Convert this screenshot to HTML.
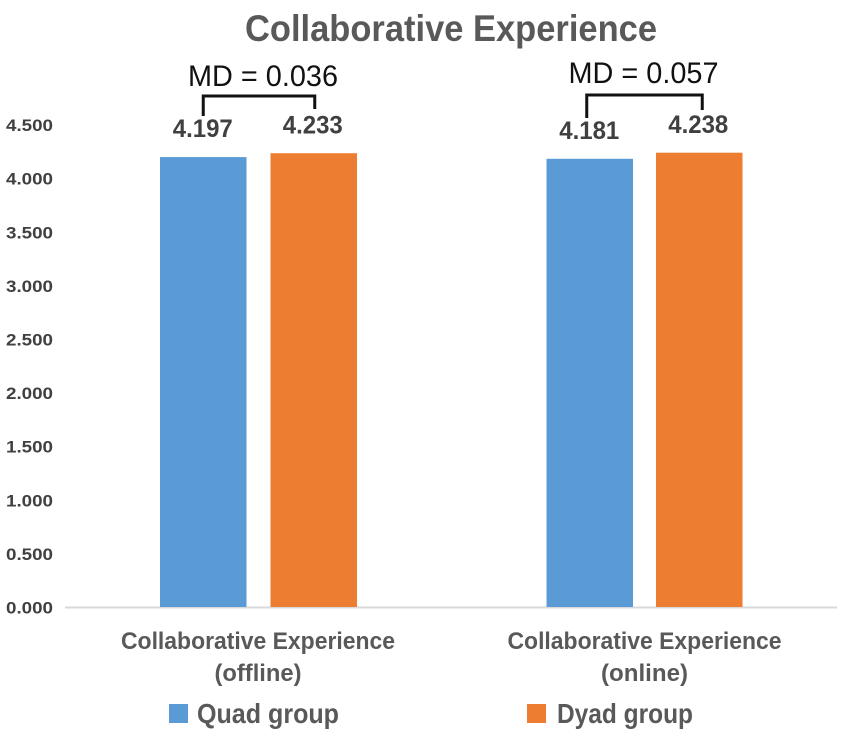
<!DOCTYPE html>
<html lang="en">
<head>
<meta charset="utf-8">
<title>Collaborative Experience</title>
<style>
html,body{margin:0;padding:0;background:#fff;}
svg{display:block;}
text{font-family:"Liberation Sans",sans-serif;}
</style>
</head>
<body>
<svg id="chart" xmlns="http://www.w3.org/2000/svg" width="851" height="739" viewBox="0 0 851 739">
  <rect x="0" y="0" width="851" height="739" fill="#fff"/>
  <text x="451" y="41" text-anchor="middle" font-size="37" font-weight="700" fill="#595959" textLength="412" lengthAdjust="spacingAndGlyphs">Collaborative Experience</text>
  <rect x="169" y="704" width="19" height="19" fill="#5b9bd5"/>
  <text x="197" y="723" font-size="28" font-weight="700" fill="#595959" textLength="142" lengthAdjust="spacingAndGlyphs">Quad group</text>
  <rect x="527" y="704" width="19" height="19" fill="#ed7d31"/>
  <text x="557" y="723" font-size="28" font-weight="700" fill="#595959" textLength="136" lengthAdjust="spacingAndGlyphs">Dyad group</text>
</svg>
<script>
const tickLabels = ["0.000","0.500","1.000","1.500","2.000","2.500","3.000","3.500","4.000","4.500"];
const categoryFirstLines = ["Collaborative Experience","Collaborative Experience"];
const categorySecondLines = ["(offline)","(online)"];
const quadValues = [4.197,4.181];
const dyadValues = [4.233,4.238];
const meanDifferences = ["0.036","0.057"];

const NS = "http://www.w3.org/2000/svg";
const svg = document.getElementById("chart");
const baseY = 607;
const unitPx = 107.2;
const yScale = function (v) { return baseY - v * unitPx; };
const groupCentre = function (i) { return 258 + i * 386.5; };
const barWidth = 86.5;

function make(tag, attrs, content) {
  const el = document.createElementNS(NS, tag);
  Object.keys(attrs).forEach(function (k) { el.setAttribute(k, attrs[k]); });
  if (content !== undefined) { el.textContent = content; }
  svg.appendChild(el);
  return el;
}

const axisLine = make("line", {x1: 65, x2: 837, y1: baseY + 0.5, y2: baseY + 0.5, stroke: "#d9d9d9", "stroke-width": 2});



tickLabels.forEach(function (label) {
  const tick = make("text", {x: 6, y: yScale(parseFloat(label)) + 6.5, "font-size": 17, "font-weight": 700, fill: "#404040", textLength: 47, lengthAdjust: "spacingAndGlyphs"}, label);
  
  
});

categoryFirstLines.forEach(function (line, i) {
  const cx = groupCentre(i);

  const quadX = cx - 98;
  const dyadX = cx + 12.5 - i;
  const quadBar = make("rect", {x: quadX, y: yScale(quadValues[i]), width: barWidth, height: baseY - yScale(quadValues[i]), fill: "#5b9bd5"});
  
  
  const dyadBar = make("rect", {x: dyadX, y: yScale(dyadValues[i]), width: barWidth, height: baseY - yScale(dyadValues[i]), fill: "#ed7d31"});
  
  

  const quadCentre = quadX + barWidth / 2;
  const dyadCentre = dyadX + barWidth / 2;

  const quadLabel = make("text", {x: quadCentre - 0.5, y: yScale(quadValues[i]) - 20, "text-anchor": "middle", "font-size": 25, "font-weight": 700, fill: "#404040", textLength: 60, lengthAdjust: "spacingAndGlyphs"}, quadValues[i].toFixed(3));
  
  
  const dyadLabel = make("text", {x: dyadCentre - 1, y: yScale(dyadValues[i]) - 19.5, "text-anchor": "middle", "font-size": 25, "font-weight": 700, fill: "#404040", textLength: 60, lengthAdjust: "spacingAndGlyphs"}, dyadValues[i].toFixed(3));
  
  

  const left = quadCentre - (i === 0 ? 0 : 3);
  const right = dyadCentre + (i === 0 ? 1 : 3);
  const top = 96 - i;
  const leftBottom = 116 + i * 2;
  const rightBottom = 109 + i;
  const bracket = make("path", {d: "M" + left + " " + leftBottom + "V" + top + "H" + right + "V" + rightBottom, fill: "none", stroke: "#111", "stroke-width": 3});
  
  

  const mdLabel = make("text", {x: (left + right) / 2 + 4 - i * 5, y: 86 - i * 3, "text-anchor": "middle", "font-size": 30, fill: "#111", textLength: 150, lengthAdjust: "spacingAndGlyphs"}, "MD = " + meanDifferences[i]);
  
  

  const catLine1 = make("text", {x: cx, y: 649, "text-anchor": "middle", "font-size": 24, "font-weight": 700, fill: "#595959", textLength: 274, lengthAdjust: "spacingAndGlyphs"}, line);
  
  
  const catLine2 = make("text", {x: cx, y: 681, "text-anchor": "middle", "font-size": 24, "font-weight": 700, fill: "#595959", textLength: 87, lengthAdjust: "spacingAndGlyphs"}, categorySecondLines[i]);
  
  
});
</script>
</body>
</html>
